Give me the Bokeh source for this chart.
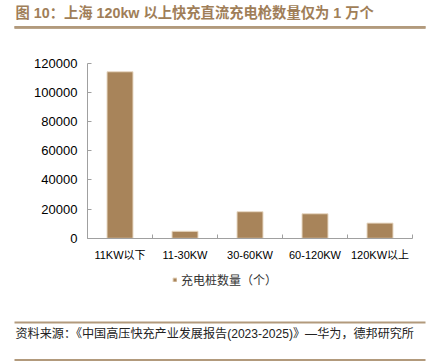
from bokeh.plotting import figure
from bokeh.models import (FixedTicker, Label, BoxAnnotation, Legend, LinearAxis,
                          LegendItem, Range1d, NumeralTickFormatter)
from bokeh.embed import file_html
from bokeh.resources import INLINE

categories = ["11KW以下", "11-30KW", "30-60KW", "60-120KW", "120KW以上"]
counts = [114000, 4800, 18200, 16800, 10400]
y_ticks = [0, 20000, 40000, 60000, 80000, 100000, 120000]
title_text = "图 10：上海 120kw 以上快充直流充电枪数量仅为 1 万个"
legend_label = "充电桩数量（个）"
source_text = "资料来源：《中国高压快充产业发展报告(2023-2025)》—华为，德邦研究所"

FONT = "Liberation Sans, Noto Sans CJK SC"
BROWN = "#a8845a"
RULE = "#b29a7c"
AXIS = "#a0a0a0"

W, H = 438, 361
# pixel layout of the plotting area inside the figure
PL, PR, PT, PB = 87, 412, 62.5, 237.8
YMAX = y_ticks[-1]
NCAT = len(categories)
kx = NCAT / (PR - PL)
ky = YMAX / (PB - PT)


def px_x(px):
    return (px - PL) * kx


def px_y(py):
    return (PB - py) * ky


p = figure(width=W, height=H, output_backend="svg", toolbar_location=None,
           x_range=Range1d(px_x(0), px_x(W)), y_range=Range1d(px_y(H), px_y(0)),
           min_border=0, min_border_left=0, min_border_right=0,
           min_border_top=0, min_border_bottom=0)
p.outline_line_color = None
p.xgrid.grid_line_color = None
p.ygrid.grid_line_color = None


def rule(y_top, thickness=2):
    return BoxAnnotation(left=14, right=425, top=H - y_top, bottom=H - y_top - thickness,
                         left_units="screen", right_units="screen",
                         top_units="screen", bottom_units="screen",
                         fill_color=RULE, fill_alpha=1, line_color=None, level="underlay")


# rules framing the source line
p.add_layout(rule(321))
p.add_layout(rule(358.5))

# rule under the title, drawn as a bare axis line
title_rule = LinearAxis(fixed_location=px_y(26.75), bounds=(px_x(14), px_x(425)),
                        ticker=FixedTicker(ticks=[]),
                        axis_line_color=RULE, axis_line_width=2.5,
                        major_tick_line_color=None, minor_tick_line_color=None,
                        major_label_text_alpha=0)
p.add_layout(title_rule, "above")
p.segment(x0=[px_x(14)], y0=[px_y(26.75)], x1=[px_x(425)], y1=[px_y(26.75)],
          line_color=RULE, line_width=2.5)

xs = [i + 0.5 for i in range(NCAT)]
bars = p.vbar(x=xs, top=counts, width=0.4, fill_color=BROWN,
              line_color="#e8d9c4", line_width=1)

ya = p.yaxis[0]
ya.fixed_location = 0
ya.bounds = (0, YMAX)
ya.ticker = FixedTicker(ticks=y_ticks)
ya.formatter = NumeralTickFormatter(format="0")
ya.axis_line_color = AXIS
ya.major_tick_line_color = AXIS
ya.major_tick_in = 4
ya.major_tick_out = 0
ya.minor_tick_line_color = None
ya.major_label_text_font = FONT
ya.major_label_text_font_size = "13px"
ya.major_label_text_color = "#000000"
ya.major_label_standoff = 10

xa = p.below[0]
xa.fixed_location = 0
xa.bounds = (0, NCAT)
xa.ticker = FixedTicker(ticks=xs, minor_ticks=list(range(NCAT + 1)))
xa.major_label_overrides = {x: c for x, c in zip(xs, categories)}
xa.axis_line_color = AXIS
xa.major_tick_line_color = None
xa.minor_tick_line_color = AXIS
xa.minor_tick_in = 4
xa.minor_tick_out = 0
xa.major_label_text_font = FONT
xa.major_label_text_font_size = "11px"
xa.major_label_text_color = "#000000"
xa.major_label_standoff = 5

legend = Legend(items=[LegendItem(label=legend_label, renderers=[bars])],
                location=(172, 72), orientation="horizontal",
                glyph_width=5, glyph_height=5, label_standoff=4, label_height=20,
                label_text_font=FONT, label_text_font_size="12px",
                label_text_color="#333333", border_line_color=None,
                background_fill_alpha=0, padding=0, margin=0)
p.add_layout(legend)

# title
p.add_layout(Label(x=15, y=H - 12.5, x_units="screen", y_units="screen", text=title_text,
                   text_font=FONT, text_font_style="bold", text_font_size="14.3px",
                   text_color="#a07e58", text_baseline="middle"))

# source
p.add_layout(Label(x=15, y=H - 333, x_units="screen", y_units="screen", text=source_text,
                   text_font=FONT, text_font_size="12.1px",
                   text_color="#222222", text_baseline="middle"))

open("out.html", "w").write(file_html(p, INLINE))
